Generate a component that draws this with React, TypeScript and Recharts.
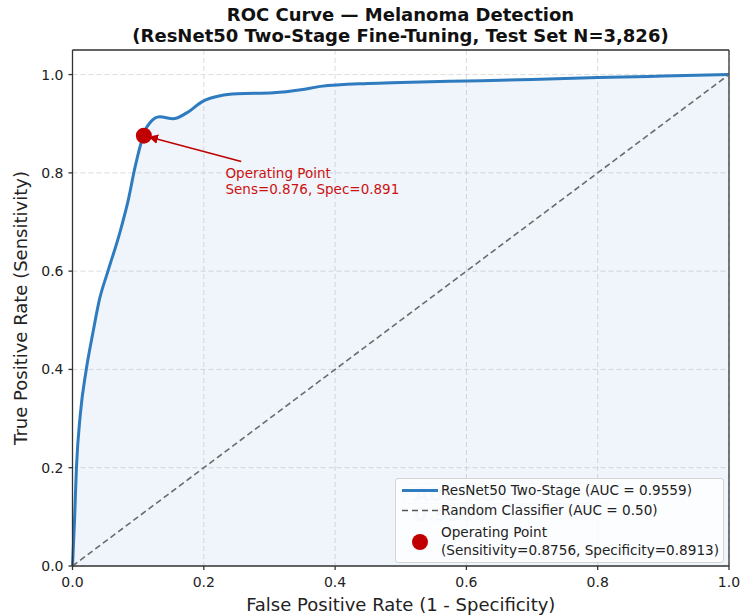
import { ComposedChart, Area, Scatter, XAxis, YAxis, CartesianGrid, ReferenceLine, ReferenceDot } from 'recharts'

const fpr = [0, 0.003, 0.006, 0.012, 0.021, 0.031, 0.041, 0.054, 0.072, 0.085, 0.095, 0.103, 0.11, 0.118, 0.133, 0.153, 0.174, 0.199, 0.225, 0.251, 0.306, 0.348, 0.378, 0.45, 0.5, 0.6, 0.7, 0.8, 0.9, 1.0]
const tpr = [0, 0.09, 0.2, 0.31, 0.4, 0.474, 0.542, 0.6, 0.678, 0.745, 0.81, 0.854, 0.885, 0.902, 0.914, 0.91, 0.922, 0.946, 0.957, 0.961, 0.963, 0.969, 0.976, 0.982, 0.984, 0.987, 0.99, 0.994, 0.997, 1.0]
const opPoint = { fpr: 0.1087, tpr: 0.8756 }
const ticks = [0, 0.2, 0.4, 0.6, 0.8, 1.0]

const rocData = fpr.map((x, i) => ({ fpr: x, tpr: tpr[i] }))

const BLUE = '#2f7bbf'
const RED = '#c00000'
const FONT = 'DejaVu Sans, sans-serif'

function NoteLabel({ viewBox }: any) {
  const { x, y } = viewBox
  return (
    <g fontFamily={FONT} fontSize={13.5} fill="#cc1111">
      <text x={x} y={y}>Operating Point</text>
      <text x={x} y={y + 16}>Sens=0.876, Spec=0.891</text>
    </g>
  )
}

export default function App() {
  return (
    <div style={{ position: 'absolute', left: 0, top: 0, width: 742, height: 616, background: '#fff', fontFamily: FONT }}>
      <div style={{ position: 'absolute', left: 0, width: 801, top: 5, textAlign: 'center', fontWeight: 'bold', fontSize: 18, lineHeight: '20.5px', color: '#111' }}>
        ROC Curve — Melanoma Detection
        <br />
        (ResNet50 Two-Stage Fine-Tuning, Test Set N=3,826)
      </div>
      <ComposedChart width={742} height={616} data={rocData} margin={{ top: 50, right: 13, bottom: 0, left: 0 }}>
        <defs>
          <marker id="arr" viewBox="0 0 10 10" refX="9" refY="5" markerWidth="6" markerHeight="6" orient="auto-start-reverse">
            <path d="M0,0 L10,5 L0,10 z" fill={RED} />
          </marker>
        </defs>
        <CartesianGrid stroke="#dcdcdc" strokeDasharray="5 3" />
        <XAxis
          dataKey="fpr"
          type="number"
          domain={[0, 1]}
          ticks={ticks}
          tickFormatter={(v: number) => v.toFixed(1)}
          height={50}
          stroke="#333"
          strokeWidth={1.3}
          tick={{ fill: '#222', fontSize: 14, fontFamily: FONT }}
          tickSize={4}
          tickMargin={7}
          label={{ value: 'False Positive Rate (1 - Specificity)', position: 'insideBottom', offset: 5, fill: '#222', fontSize: 18, fontFamily: FONT }}
        />
        <YAxis
          type="number"
          domain={[0, 1.05]}
          ticks={ticks}
          tickFormatter={(v: number) => v.toFixed(1)}
          width={72.5}
          stroke="#333"
          strokeWidth={1.3}
          tick={{ fill: '#222', fontSize: 14, fontFamily: FONT }}
          tickSize={4}
          tickMargin={5}
          allowDataOverflow
          label={{ value: 'True Positive Rate (Sensitivity)', angle: -90, position: 'insideLeft', offset: 21, style: { textAnchor: 'middle' }, fill: '#222', fontSize: 18, fontFamily: FONT }}
        />
        <ReferenceLine y={1.05} stroke="#333" strokeWidth={1.3} />
        <ReferenceLine x={1} stroke="#333" strokeWidth={1.3} />
        <Area
          dataKey="tpr"
          type="monotone"
          stroke={BLUE}
          strokeWidth={3}
          fill={BLUE}
          fillOpacity={0.08}
          isAnimationActive={false}
        />
        <ReferenceLine
          segment={[{ x: 0, y: 0 }, { x: 1, y: 1 }]}
          stroke="#6b6b6b"
          strokeWidth={1.6}
          strokeDasharray="6 3.5"
        />
        <ReferenceLine
          segment={[{ x: 0.257, y: 0.823 }, { x: 0.117, y: 0.873 }]}
          stroke={RED}
          strokeWidth={1.6}
          markerEnd="url(#arr)"
        />
        <ReferenceDot x={0.233} y={0.79} r={0} label={<NoteLabel />} />
        <Scatter data={[opPoint]} dataKey="tpr" fill={RED} shape={(p: any) => <circle cx={p.cx} cy={p.cy} r={8} fill={RED} />} isAnimationActive={false} />
      </ComposedChart>
      <div style={{ position: 'absolute', left: 403, top: 483, width: 206, height: 21, border: '1.5px solid #d6e3f1', borderRadius: 5, color: '#d3e1f0', fontSize: 19, fontWeight: 'bold', lineHeight: '20px', paddingLeft: 10, boxSizing: 'border-box' }}>
        AUC-ROC = 0.9559
      </div>
      <div style={{ position: 'absolute', left: 395, top: 478, width: 329, height: 85, border: '1px solid #d4d4d4', borderRadius: 3, background: 'rgba(255,255,255,0.8)', fontSize: 13.6, color: '#222', boxSizing: 'border-box' }}>
        <svg style={{ position: 'absolute', left: 0, top: 0 }} width={50} height={80}>
          <line x1={6} x2={42} y1={11.5} y2={11.5} stroke={BLUE} strokeWidth={3} />
          <line x1={6} x2={42} y1={31.5} y2={31.5} stroke="#555" strokeWidth={1.6} strokeDasharray="6 4" />
          <circle cx={24} cy={63} r={8} fill={RED} />
        </svg>
        <div style={{ position: 'absolute', left: 45, top: 3 }}>ResNet50 Two-Stage (AUC = 0.9559)</div>
        <div style={{ position: 'absolute', left: 45, top: 23 }}>Random Classifier (AUC = 0.50)</div>
        <div style={{ position: 'absolute', left: 45, top: 44, lineHeight: '18px' }}>
          Operating Point
          <br />
          (Sensitivity=0.8756, Specificity=0.8913)
        </div>
      </div>
    </div>
  )
}
